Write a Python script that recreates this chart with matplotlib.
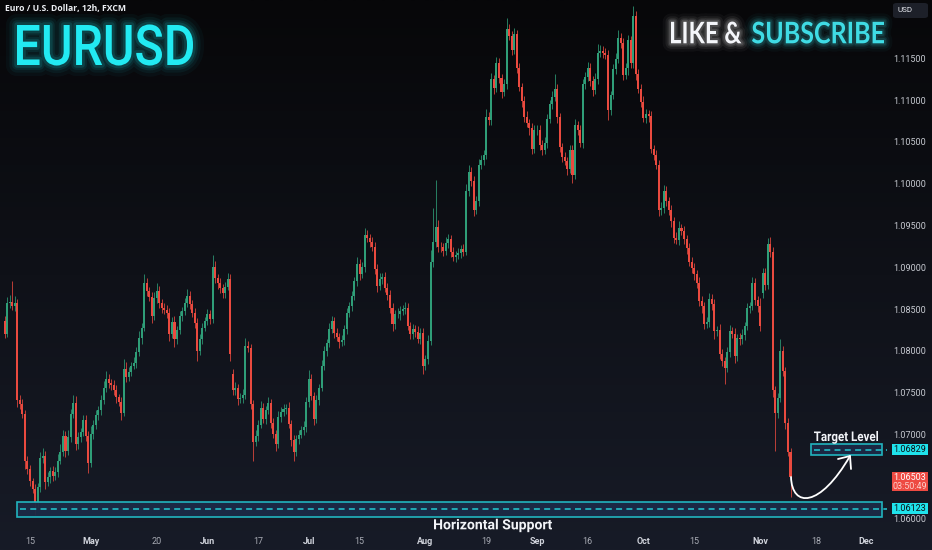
import matplotlib
matplotlib.use("Agg")
import matplotlib.pyplot as plt
import numpy as np
from matplotlib.textpath import TextPath
from matplotlib.font_manager import FontProperties
from matplotlib.patches import PathPatch, Rectangle, FancyBboxPatch
from matplotlib.path import Path
from matplotlib.transforms import Affine2D, blended_transform_factory
from matplotlib.colors import to_rgb

plt.rcParams['lines.scale_dashes'] = False

# ---------------- data (EURUSD, 12h candles, FXCM) ----------------
first_open = 1.0837
closes = [
    1.0822, 1.0858, 1.0860, 1.0855, 1.0858, 1.0742, 1.0738, 1.0726, 1.0670, 1.0660,
    1.0645, 1.0636, 1.0619, 1.0638, 1.0673, 1.0676, 1.0644, 1.0650, 1.0657, 1.0652,
    1.0656, 1.0670, 1.0680, 1.0700, 1.0682, 1.0698, 1.0726, 1.0739, 1.0690, 1.0698,
    1.0704, 1.0718, 1.0700, 1.0667, 1.0702, 1.0712, 1.0724, 1.0730, 1.0742, 1.0757,
    1.0768, 1.0763, 1.0760, 1.0755, 1.0746, 1.0740, 1.0727, 1.0780, 1.0770, 1.0776,
    1.0783, 1.0787, 1.0800, 1.0817, 1.0829, 1.0882, 1.0873, 1.0866, 1.0843, 1.0865,
    1.0873, 1.0858, 1.0852, 1.0850, 1.0847, 1.0822, 1.0836, 1.0816, 1.0826, 1.0843,
    1.0849, 1.0858, 1.0867, 1.0857, 1.0847, 1.0835, 1.0801, 1.0815, 1.0829, 1.0837,
    1.0845, 1.0839, 1.0902, 1.0888, 1.0882, 1.0876, 1.0870, 1.0878, 1.0887, 1.0797,
    1.0754, 1.0757, 1.0744, 1.0745, 1.0748, 1.0807, 1.0805, 1.0738, 1.0692, 1.0700,
    1.0713, 1.0733, 1.0720, 1.0730, 1.0739, 1.0715, 1.0702, 1.0690, 1.0722, 1.0728,
    1.0732, 1.0733, 1.0714, 1.0695, 1.0680, 1.0696, 1.0701, 1.0706, 1.0710, 1.0740,
    1.0768, 1.0747, 1.0720, 1.0743, 1.0757, 1.0783, 1.0801, 1.0811, 1.0827, 1.0837,
    1.0823, 1.0818, 1.0812, 1.0814, 1.0827, 1.0846, 1.0855, 1.0867, 1.0885, 1.0905,
    1.0893, 1.0901, 1.0940, 1.0936, 1.0932, 1.0926, 1.0899, 1.0879, 1.0887, 1.0889,
    1.0877, 1.0868, 1.0852, 1.0833, 1.0845, 1.0845, 1.0849, 1.0851, 1.0853, 1.0831,
    1.0821, 1.0827, 1.0824, 1.0816, 1.0823, 1.0783, 1.0791, 1.0813, 1.0908, 1.0932,
    1.0950, 1.0926, 1.0925, 1.0921, 1.0930, 1.0935, 1.0920, 1.0914, 1.0916, 1.0918,
    1.0923, 1.0920, 1.0992, 1.1015, 1.1005, 1.0970, 1.0980, 1.1024, 1.1030, 1.1036,
    1.1081, 1.1077, 1.1126, 1.1116, 1.1146, 1.1128, 1.1111, 1.1120, 1.1186, 1.1178,
    1.1161, 1.1180, 1.1140, 1.1117, 1.1100, 1.1081, 1.1074, 1.1068, 1.1043, 1.1065,
    1.1066, 1.1047, 1.1042, 1.1050, 1.1079, 1.1096, 1.1105, 1.1114, 1.1081, 1.1045,
    1.1033, 1.1028, 1.1019, 1.1041, 1.1012, 1.1071, 1.1065, 1.1050, 1.1120, 1.1129,
    1.1140, 1.1124, 1.1113, 1.1126, 1.1158, 1.1160, 1.1158, 1.1155, 1.1089, 1.1107,
    1.1138, 1.1150, 1.1176, 1.1170, 1.1131, 1.1139, 1.1173, 1.1145, 1.1202, 1.1132,
    1.1115, 1.1099, 1.1080, 1.1084, 1.1082, 1.1043, 1.1035, 1.1024, 1.0970, 1.0972,
    1.0992, 1.0980, 1.0970, 1.0956, 1.0936, 1.0934, 1.0948, 1.0945, 1.0935, 1.0924,
    1.0908, 1.0900, 1.0893, 1.0882, 1.0861, 1.0855, 1.0833, 1.0836, 1.0863, 1.0857,
    1.0825, 1.0826, 1.0797, 1.0789, 1.0781, 1.0800, 1.0825, 1.0822, 1.0795, 1.0817,
    1.0815, 1.0820, 1.0831, 1.0852, 1.0855, 1.0882, 1.0862, 1.0855, 1.0831, 1.0894,
    1.0880, 1.0929, 1.0920, 1.0754, 1.0727, 1.0745, 1.0801, 1.0777, 1.0715, 1.0680,
    1.06503,
]
# wick lengths beyond the body, in pips
upper_wick_pips = [
    6, 8, 8, 25, 9, 5, 7, 6, 4, 6,   5, 4, 6, 5, 7, 9, 5, 6, 5, 7,
    6, 8, 10, 7, 5, 8, 6, 9, 8, 6,   5, 7, 6, 5, 9, 6, 7, 5, 6, 8,
    9, 6, 5, 6, 5, 4, 6, 12, 8, 6,   5, 7, 6, 8, 5, 11, 6, 5, 6, 7,
    9, 6, 5, 7, 6, 5, 6, 7, 5, 6,    5, 7, 8, 6, 5, 6, 5, 7, 6, 5,
    6, 5, 14, 7, 5, 6, 5, 6, 7, 6,   6, 7, 5, 6, 8, 10, 6, 5, 4, 6,
    5, 8, 6, 5, 7, 5, 6, 5, 7, 6,    6, 5, 7, 5, 6, 5, 6, 5, 7, 6,
    10, 6, 5, 6, 5, 7, 6, 5, 7, 6,   5, 6, 5, 6, 5, 7, 5, 6, 5, 8,
    6, 7, 8, 6, 5, 6, 5, 6, 7, 5,    6, 5, 6, 7, 5, 8, 6, 5, 7, 6,
    5, 6, 5, 7, 5, 6, 5, 7, 14, 40,  56, 8, 6, 5, 7, 6, 5, 6, 5, 6,
    5, 6, 9, 8, 6, 5, 6, 7, 5, 6,    9, 6, 8, 5, 7, 6, 5, 6, 14, 6,
    6, 8, 5, 6, 5, 6, 7, 5, 6, 7,    6, 5, 6, 7, 6, 5, 7, 18, 6, 5,
    5, 6, 5, 7, 6, 8, 5, 6, 7, 6,    7, 5, 6, 8, 10, 7, 6, 5, 6, 5,
    6, 7, 9, 6, 5, 7, 6, 5, 12, 6,   6, 5, 7, 6, 5, 6, 5, 6, 5, 7,
    8, 6, 5, 6, 5, 7, 8, 5, 6, 5,    6, 5, 6, 5, 7, 6, 5, 6, 8, 6,
    6, 5, 7, 6, 5, 6, 7, 5, 6, 5,    6, 7, 5, 6, 5, 8, 6, 5, 9, 6,
    6, 7, 8, 6, 5, 6, 15, 6, 5, 6,   5,
]
lower_wick_pips = [
    5, 4, 6, 5, 6, 8, 6, 5, 10, 6,   6, 5, 14, 4, 5, 6, 8, 5, 7, 6,
    5, 6, 4, 5, 8, 5, 6, 5, 7, 6,    6, 5, 6, 12, 5, 6, 4, 5, 6, 4,
    5, 6, 5, 6, 7, 5, 9, 4, 6, 5,    5, 4, 6, 5, 7, 4, 6, 5, 8, 5,
    6, 5, 6, 5, 7, 9, 5, 10, 6, 5,   6, 5, 4, 6, 5, 7, 12, 5, 6, 4,
    5, 6, 4, 6, 7, 5, 6, 5, 4, 8,    5, 6, 7, 5, 6, 4, 5, 6, 22, 5,
    6, 4, 5, 6, 4, 6, 5, 8, 5, 6,    5, 6, 5, 7, 10, 5, 6, 4, 5, 6,
    6, 5, 8, 5, 6, 4, 5, 6, 5, 4,    6, 5, 7, 5, 6, 5, 4, 6, 5, 6,
    7, 5, 6, 5, 6, 5, 6, 7, 5, 6,    5, 6, 5, 8, 6, 5, 7, 5, 6, 5,
    6, 5, 6, 5, 7, 9, 5, 6, 5, 6,    6, 7, 5, 6, 5, 6, 7, 5, 6, 5,
    6, 5, 4, 5, 6, 8, 5, 6, 5, 6,    5, 6, 5, 7, 5, 6, 7, 5, 6, 5,
    6, 5, 6, 5, 7, 6, 5, 8, 6, 5,    5, 6, 7, 5, 6, 5, 6, 5, 7, 6,
    6, 5, 7, 5, 10, 5, 6, 5, 6, 5,   5, 6, 7, 5, 6, 5, 6, 5, 12, 6,
    5, 6, 5, 7, 6, 5, 8, 6, 5, 7,    5, 6, 5, 6, 7, 5, 6, 5, 8, 6,
    6, 5, 6, 7, 6, 5, 6, 5, 6, 7,    5, 6, 7, 5, 6, 8, 6, 5, 6, 7,
    9, 6, 5, 6, 19, 5, 6, 5, 8, 6,   7, 5, 6, 5, 6, 5, 6, 7, 6, 5,
    6, 5, 6, 8, 45, 6, 5, 6, 7, 5,   24,
]
gap_opens = {90: 1.0774, 299: 1.0870}

tick_candles = [10, 34, 60, 80, 100, 120, 140, 166, 190, 210, 230, 252, 272, 298, 320, 340]
tick_labels = ['15', 'May', '20', 'Jun', '17', 'Jul', '15', 'Aug', '19', 'Sep', '16', 'Oct', '15', 'Nov', '18', 'Dec']
month_labels = {'May', 'Jun', 'Jul', 'Aug', 'Sep', 'Oct', 'Nov', 'Dec'}
price_ticks = [1.060, 1.065, 1.070, 1.075, 1.080, 1.085, 1.090, 1.095, 1.100, 1.105, 1.110, 1.115]

support_level = 1.06123
target_level = 1.06829
last_price = 1.06503
countdown = '03:50:49'

# ---------------- derived OHLC ----------------
opens, highs, lows = [], [], []
prev = first_open
for i, c in enumerate(closes):
    o = gap_opens.get(i, prev)
    opens.append(o)
    highs.append(max(o, c) + upper_wick_pips[i] * 1e-4)
    lows.append(min(o, c) - lower_wick_pips[i] * 1e-4)
    prev = c
opens = np.array(opens); closes_a = np.array(closes)
highs = np.array(highs); lows = np.array(lows)
idx = np.arange(len(closes))

UP = '#2f9e78'
DOWN = '#ea4a3f'
CYAN = '#1fe3ec'
TEAL = '#22bcc6'
LBL = ['Roboto', 'DejaVu Sans']

W, H = 932, 550
fig = plt.figure(figsize=(W / 100, H / 100), dpi=100, facecolor='#0a0a0e')

# background gradient
bg = fig.add_axes([0, 0, 1, 1], zorder=-10)
top = np.array(to_rgb('#070709')); bot = np.array(to_rgb('#171b27'))
t = np.linspace(0, 1, 256)[:, None]
grad = (top[None, :] * (1 - t) + bot[None, :] * t)[:, None, :]
bg.imshow(grad, aspect='auto', extent=[0, 1, 0, 1], interpolation='bilinear')
bg.axis('off')

# main price axes (pixel mapping: x = 4.65 + 2.535*i ; y = 59.3 + (1.115-p)*8360)
ax = fig.add_axes([0, (H - 532) / H, 885 / W, 532 / H])
ax.set_xlim(-4.65 / 2.535, (885 - 4.65) / 2.535)
ax.set_ylim(1.115 - (532 - 59.3) / 8360, 1.115 + 59.3 / 8360)
ax.axis('off')

up = closes_a >= opens
cols = np.where(up, UP, DOWN)
ax.vlines(idx, lows, highs, colors=cols, lw=0.55, zorder=2)
body_h = np.maximum(np.abs(closes_a - opens), 0.00008)
ax.bar(idx, body_h, bottom=np.minimum(opens, closes_a), width=0.8, color=cols, lw=0, zorder=3)

# pixel transform (origin top-left)
pxT = Affine2D().scale(1 / W, -1 / H).translate(0, 1) + fig.transFigure
fig_y = blended_transform_factory(fig.transFigure, ax.transData)
data_x = blended_transform_factory(ax.transData, fig.transFigure)

# support zone
sx0 = (17 - 4.65) / 2.535
sx1 = (882 - 4.65) / 2.535
ax.add_patch(Rectangle((sx0, support_level - 0.00098), sx1 - sx0, 0.00180,
                       fc='#1c2a46', ec=TEAL, lw=1.2, alpha=0.95, zorder=4, clip_on=False))
ax.hlines(support_level, sx0 + 1.0, (887 - 4.65) / 2.535, colors=TEAL, lw=1.2,
          linestyles=(0, (4.3, 3.1)), zorder=5, clip_on=False)

# target zone
tx0 = (811 - 4.65) / 2.535
tx1 = (882 - 4.65) / 2.535
ax.add_patch(Rectangle((tx0, target_level - 0.00066), tx1 - tx0, 0.00132,
                       fc='#1c2a46', ec=TEAL, lw=1.2, alpha=0.95, zorder=4, clip_on=False))
ax.hlines(target_level, tx0 + 1.0, (887 - 4.65) / 2.535, colors=TEAL, lw=1.2,
          linestyles=(0, (4.3, 3.1)), zorder=5, clip_on=False)

# price axis labels
for p in price_ticks:
    ax.text(910 / W, p, f'{p:.5f}', transform=fig_y, ha='center', va='center',
            fontsize=6.5, color='#c6c9d0', family=LBL, clip_on=False)

# price tags
def tag(level, fc, lines, colors, down_ext=0.0):
    ax.add_patch(Rectangle((891.5 / W, level - 0.00066 - down_ext), 36 / W, 0.00132 + down_ext,
                           transform=fig_y, fc=fc, ec='none', zorder=8, clip_on=False))
    for k, (s, tc) in enumerate(zip(lines, colors)):
        ax.text(909.5 / W, level - k * 0.00110, s, transform=fig_y, ha='center', va='center',
                fontsize=6.5, color=tc, family=LBL, zorder=9, clip_on=False)

tag(target_level, CYAN, [f'{target_level:.5f}'], ['#0d1015'])
tag(support_level, CYAN, [f'{support_level:.5f}'], ['#0d1015'])
tag(last_price, '#ee4a42', [f'{last_price:.5f}', countdown], ['#ffffff', '#fbd0cc'], down_ext=0.00105)

# x tick labels
for c, lab in zip(tick_candles, tick_labels):
    is_m = lab in month_labels
    ax.text(c, 1 - 541 / H, lab, transform=data_x, ha='center', va='center', fontsize=6.5,
            color='#d1d4dc' if is_m else '#a8abb4', fontweight='bold' if is_m else 'normal',
            family=LBL, clip_on=False)

# USD box
fig.add_artist(FancyBboxPatch((893 / W, 1 - 18 / H), 35 / W, 15 / H,
                              boxstyle='round,pad=0,rounding_size=0.004', transform=fig.transFigure,
                              fc='#1d2029', ec='none', zorder=10))
fig.text(897 / W, 1 - 10.5 / H, 'USD', fontsize=5.8, color='#e6e8ee', va='center', ha='left',
         family=LBL, zorder=11)

# header
fig.text(5 / W, 1 - 8.5 / H, 'Euro / U.S. Dollar, 12h, FXCM', fontsize=6.2, color='#eceef3',
         va='center', ha='left', fontweight='bold', family=['Open Sans', 'DejaVu Sans'], zorder=11)

def path_text(s, x_left, baseline, width, cap, color, glow=None, family='Roboto', weight='bold',
              layers=((16, 0.035), (11, 0.055), (7, 0.08), (4, 0.12))):
    fp = FontProperties(family=family, weight=weight)
    tp = TextPath((0, 0), s, size=100, prop=fp)
    capH = TextPath((0, 0), 'H', size=100, prop=fp).get_extents().height
    bb = tp.get_extents()
    tr = Affine2D().translate(-bb.x0, 0).scale(width / bb.width, -cap / capH).translate(x_left, baseline) + pxT
    if glow is not None:
        for lw, a in layers:
            fig.add_artist(PathPatch(tp, transform=tr, fc='none', ec=glow, lw=lw, alpha=a,
                                     joinstyle='round', zorder=20))
    fig.add_artist(PathPatch(tp, transform=tr, fc=color, ec='none', zorder=21))

path_text('EURUSD', 17, 65, 176, 40, '#22eaf2', glow='#22eaf2', family='Roboto', weight='medium')
path_text('LIKE &', 671, 43.3, 70.5, 21.5, '#f4f6fa', glow='#ffffff', family='Lato', weight='bold',
          layers=((12, 0.035), (8, 0.06), (5, 0.09), (3, 0.12)))
path_text('SUBSCRIBE', 752, 43.3, 132, 21.5, '#3fdbe4', glow='#3fdbe4', family='Lato', weight='bold',
          layers=((12, 0.035), (8, 0.06), (5, 0.09), (3, 0.12)))
path_text('Target Level', 814, 441, 64, 9.5, '#f2f4f8', family='Roboto', weight='bold')
path_text('Horizontal Support', 434, 529.3, 118, 10, '#f2f4f8', family='Roboto', weight='bold')

# curved arrow toward the target level
curve = Path([(791, 477), (792, 508), (820, 508), (850, 456)],
             [Path.MOVETO, Path.CURVE4, Path.CURVE4, Path.CURVE4])
fig.add_artist(PathPatch(curve, transform=pxT, fc='none', ec='white', lw=1.3, capstyle='round', zorder=15))
head = Path([(838, 459), (850, 456), (851, 469)], [Path.MOVETO, Path.LINETO, Path.LINETO])
fig.add_artist(PathPatch(head, transform=pxT, fc='none', ec='white', lw=1.3, capstyle='round',
                         joinstyle='round', zorder=15))

fig.savefig('out.png', dpi=100, facecolor=fig.get_facecolor())
